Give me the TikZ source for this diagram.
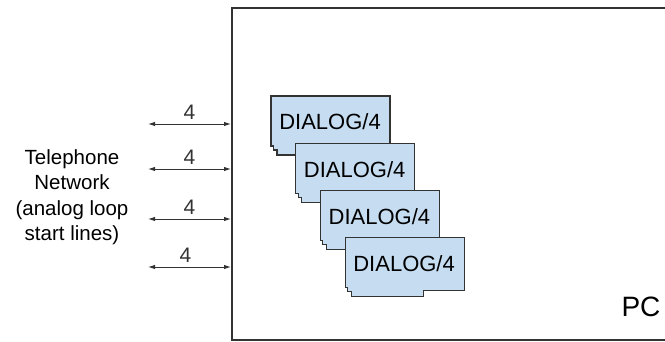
\documentclass[tikz,border=0pt]{standalone}
\usepackage{fontspec}
\setmainfont{Liberation Sans}
\usetikzlibrary{arrows.meta}
\definecolor{cardblue}{HTML}{C6DCF1}
\definecolor{linegray}{HTML}{333333}
\tikzset{
  card/.style={draw=linegray,line width=1.1pt,fill=cardblue},
  link/.style={linegray,line width=1pt,{Latex[length=7pt,width=4.5pt]}-{Latex[length=7pt,width=4.5pt]}},
  linelabel/.style={font=\fontsize{21}{22}\selectfont,above,yshift=1pt}
}
\begin{document}
\begin{tikzpicture}[x=1pt,y=-1pt]
\useasboundingbox (0,0) rectangle (665,341);
% the PC, its right side runs off the page
\node[draw=linegray,line width=1.5pt,minimum width=460pt,minimum height=332pt,anchor=north west] (pc) at (231,7) {};
\node[font=\fontsize{28}{30}\selectfont] (pclabel) at (641,307) {PC};
% boards
\foreach \i [count=\n] in {0,...,3} {
  \begin{scope}[shift={(271+24.7*\i,96+47.3*\i)}]
    \draw[card] (0,0) -- (119,0) -- (119,53) -- (78,53) -- (78,59) -- (6,59) -- (6,54) -- (2.5,54) -- (2.5,50) -- (0,50) -- cycle;
    \node[font=\fontsize{22}{24}\selectfont] (dlg\n) at (59,26) {DIALOG/4};
  \end{scope}
}
% lines to the network
\node[align=center,font=\fontsize{20.5}{25.5}\selectfont] (net) at (72,197) {Telephone\\Network\\(analog loop\\start lines)};
\coordinate (l1) at (148,124);
\coordinate (l2) at (148,169);
\coordinate (l3) at (148,219);
\coordinate (l4) at (148,267);
\draw[link] (l1) -- node[linelabel] {4} (l1 -| pc.west);
\draw[link] (l2) -- node[linelabel] {4} (l2 -| pc.west);
\draw[link] (l3) -- node[linelabel] {4} (l3 -| pc.west);
\draw[link] (l4) -- node[linelabel,xshift=-4pt] {4} (l4 -| pc.west);
\end{tikzpicture}
\end{document}
